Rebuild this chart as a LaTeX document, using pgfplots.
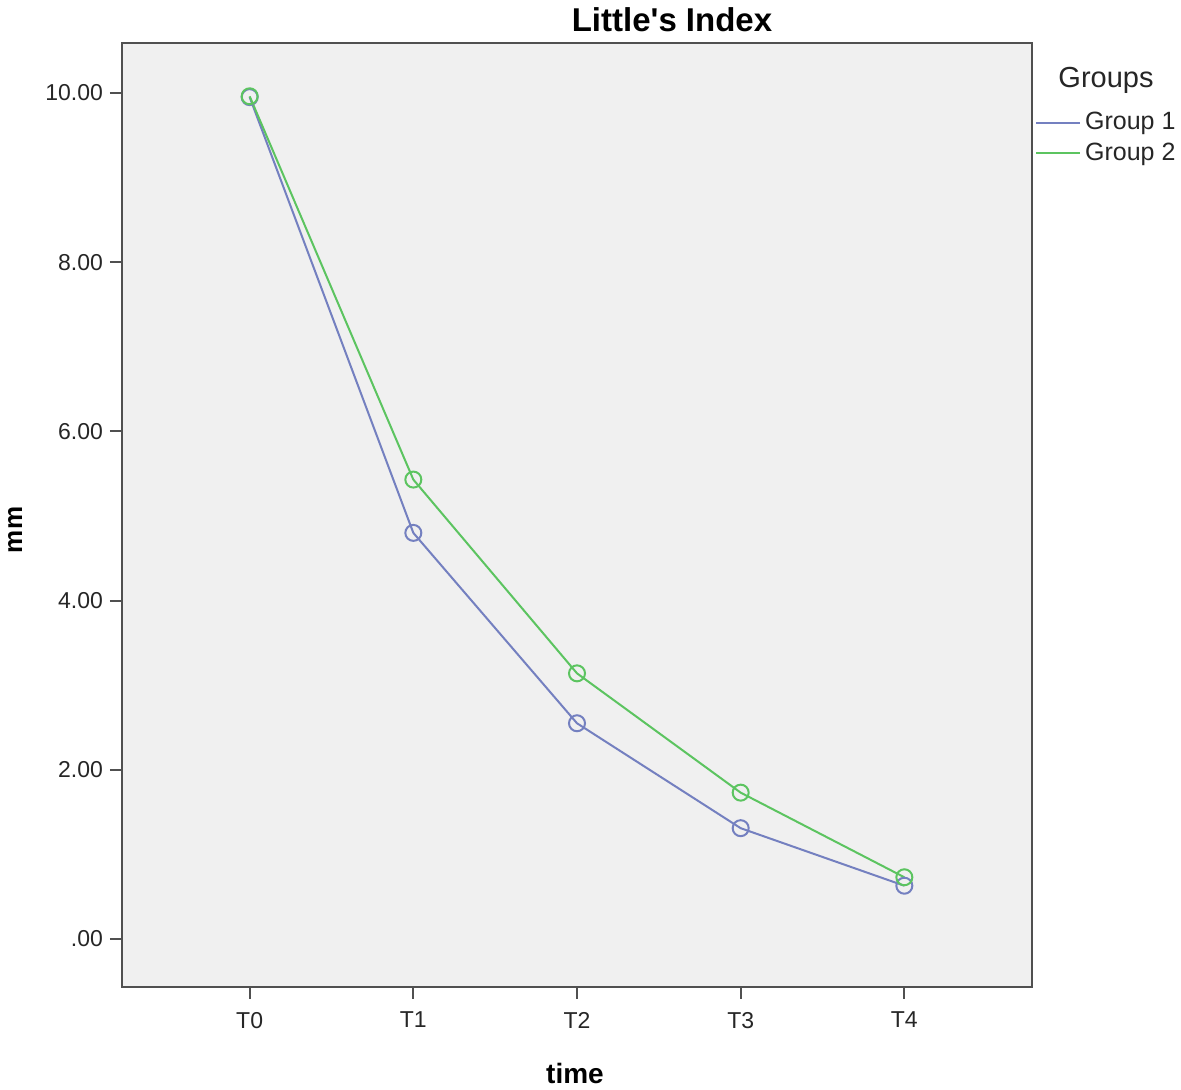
\documentclass[border=0pt]{standalone}
\usepackage{pgfplots}
\pgfplotsset{compat=1.18}
\usepackage{fontspec}
\setmainfont{Liberation Sans}
\definecolor{gblue}{HTML}{7480C0}
\definecolor{ggreen}{HTML}{5CC460}
\definecolor{bgc}{HTML}{F0F0F0}
\definecolor{axc}{HTML}{505050}
\begin{document}
\begin{tikzpicture}[x=1pt,y=1pt]
\begin{axis}[name=ax, at={(0,0)}, anchor=south west,
  scale only axis, width=455pt, height=472pt,
  xmin=-0.78, xmax=4.78, ymin=-0.567, ymax=10.59,
  axis background/.style={fill=bgc},
  axis line style={draw=axc, line width=1pt},
  xtick={0,1,2,3,4}, xticklabels={T0,T1,T2,T3,T4},
  ytick={0,2,4,6,8,10}, yticklabels={.00,2.00,4.00,6.00,8.00,10.00},
  tick align=outside, xtick pos=bottom, ytick pos=left,
  major tick length=6pt,
  tick style={draw=axc, line width=1pt},
  every tick label/.append style={font=\fontsize{11.5pt}{13pt}\selectfont, text=black!85},
  xticklabel style={yshift=-3pt},
  yticklabel style={xshift=0pt},
  legend style={at={(1.003,0.931)}, anchor=north west, draw=none, fill=none,
    font=\fontsize{12.5pt}{14pt}\selectfont, text=black!85,
    row sep=1pt, inner sep=0pt},
  legend cell align=left,
  legend image code/.code={\draw[#1, mark=none] (0pt,0pt) -- (22pt,0pt);},
  clip=false,
]
\addplot[gblue, line width=1pt, mark=o, mark size=4pt, mark options={line width=1pt}]
  coordinates {(0,9.95) (1,4.80) (2,2.55) (3,1.31) (4,0.63)};
\addlegendentry{Group 1}
\addplot[ggreen, line width=1pt, mark=o, mark size=4pt, mark options={line width=1pt}]
  coordinates {(0,9.96) (1,5.43) (2,3.14) (3,1.73) (4,0.73)};
\addlegendentry{Group 2}
\end{axis}
\node[font=\bfseries\fontsize{16.5pt}{18pt}\selectfont] at ([xshift=275pt, yshift=11.5pt]ax.north west) {Little\textquotesingle s Index};
\node[font=\bfseries\fontsize{13pt}{15pt}\selectfont, rotate=90] at ([xshift=-53.5pt, yshift=-243.5pt]ax.north west) {mm};
\node[font=\bfseries\fontsize{14pt}{16pt}\selectfont] at ([xshift=226.5pt, yshift=-43pt]ax.south west) {time};
\node[font=\fontsize{14.5pt}{17pt}\selectfont, text=black!85] at ([xshift=37pt, yshift=-18.5pt]ax.north east) {Groups};
\pgfresetboundingbox
\path ([xshift=-61pt, yshift=-51.5pt]ax.south west) rectangle ([xshift=74.5pt, yshift=21.5pt]ax.north east);
\end{tikzpicture}
\end{document}
